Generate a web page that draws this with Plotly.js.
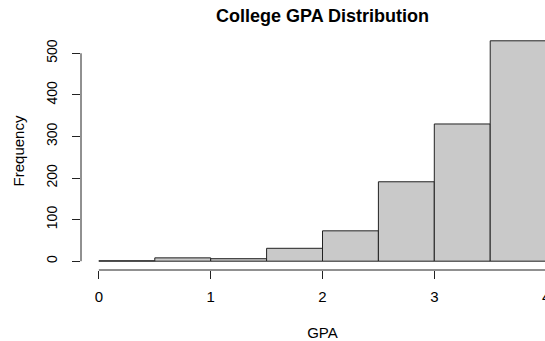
<!DOCTYPE html>
<html>
<head>
<meta charset="utf-8">
<script src="https://cdn.plot.ly/plotly-3.0.1.min.js"></script>
<style>
html,body{margin:0;padding:0;overflow:hidden;background:#fff;width:545px;height:341px;}
#chart{width:600px;height:341px;}
</style>
</head>
<body>
<div id="chart"></div>
<script>
// Data
const binEdges = [0, 0.5, 1, 1.5, 2, 2.5, 3, 3.5, 4];
const frequency = [1, 8, 6, 31, 73, 191, 330, 530];
const xTicks = [0, 1, 2, 3, 4];
const yTicks = [0, 100, 200, 300, 400, 500];

const centers = frequency.map((_, i) => (binEdges[i] + binEdges[i + 1]) / 2);
const widths = frequency.map((_, i) => binEdges[i + 1] - binEdges[i]);

const font = 'Liberation Sans, Arial, Helvetica, sans-serif';
const xmin = binEdges[0], xmax = binEdges[binEdges.length - 1];
const ymax = Math.max(...frequency);
const xpad = (xmax - xmin) * 0.04, ypad = ymax * 0.04;

const trace = {
  type: 'bar',
  x: centers,
  y: frequency,
  width: widths,
  marker: {color: '#c9c9c9', line: {color: '#222222', width: 1}},
  hoverinfo: 'x+y'
};

const layout = {
  width: 600,
  height: 341,
  margin: {l: 81, r: 36, t: 32, b: 71, pad: 0},
  paper_bgcolor: '#ffffff',
  plot_bgcolor: '#ffffff',
  showlegend: false,
  bargap: 0,
  font: {family: font, color: '#000000'},
  title: {
    text: 'College GPA Distribution',
    font: {family: font, size: 18, weight: 'bold', color: '#000000'},
    xref: 'paper', x: 0.5, xanchor: 'center',
    yref: 'container', y: 1 - 16 / 341, yanchor: 'middle'
  },
  xaxis: {
    range: [xmin - xpad, xmax + xpad],
    tickvals: xTicks,
    ticktext: xTicks.map(String),
    ticks: 'outside', ticklen: 8, tickwidth: 1, tickcolor: '#222222',
    showgrid: false, zeroline: false, showline: false,
    tickfont: {family: font, size: 15, color: '#000000'},
    ticklabelstandoff: 5,
    title: {text: 'GPA', font: {family: font, size: 15, color: '#000000'}, standoff: 24},
    automargin: false
  },
  yaxis: {
    range: [-ypad, ymax + ypad],
    tickvals: yTicks,
    ticktext: yTicks.map(String),
    tickangle: -90,
    ticks: 'outside', ticklen: 8, tickwidth: 1, tickcolor: '#222222',
    showgrid: false, zeroline: false, showline: false,
    tickfont: {family: font, size: 14, color: '#000000'},
    ticklabelstandoff: 9,
    title: {text: 'Frequency', font: {family: font, size: 15, color: '#000000'}, standoff: 16},
    automargin: false
  },
  shapes: [
    {type: 'line', xref: 'paper', yref: 'y', x0: 0, x1: 0, y0: yTicks[0], y1: yTicks[yTicks.length - 1],
     line: {color: '#222222', width: 1}},
    {type: 'line', xref: 'x', yref: 'paper', x0: xTicks[0], x1: xTicks[xTicks.length - 1], y0: 0, y1: 0,
     line: {color: '#222222', width: 1}}
  ]
};

Plotly.newPlot('chart', [trace], layout, {displayModeBar: false, staticPlot: true});
</script>
</body>
</html>
